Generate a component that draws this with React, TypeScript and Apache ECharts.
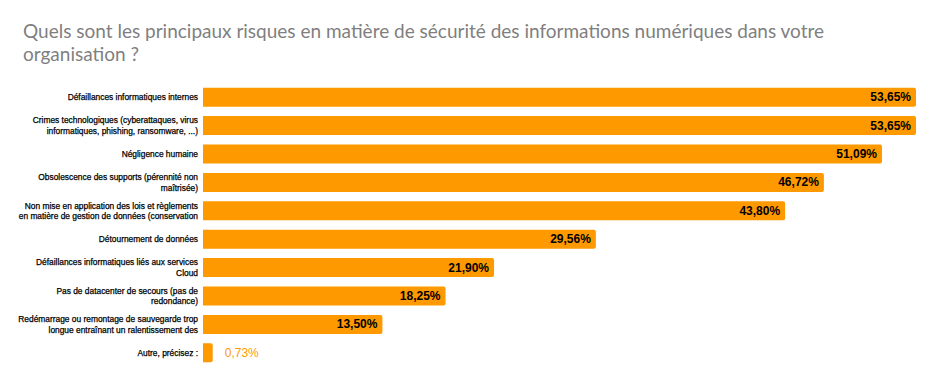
import React, { useEffect, useRef } from "react";
import * as echarts from "echarts";

const titleText =
  "Quels sont les principaux risques en matière de sécurité des informations numériques dans votre\norganisation ?";

const categories = [
  "Défaillances informatiques internes",
  "Crimes technologiques (cyberattaques, virus\ninformatiques, phishing, ransomware, ...)",
  "Négligence humaine",
  "Obsolescence des supports (pérennité non\nmaîtrisée)",
  "Non mise en application des lois et règlements\nen matière de gestion de données (conservation",
  "Détournement de données",
  "Défaillances informatiques liés aux services\nCloud",
  "Pas de datacenter de secours (pas de\nredondance)",
  "Redémarrage ou remontage de sauvegarde trop\nlongue entraînant un ralentissement des",
  "Autre, précisez :",
];

const values = [53.65, 53.65, 51.09, 46.72, 43.8, 29.56, 21.9, 18.25, 13.5, 0.73];

const ORANGE = "#ff9900";

const fmt = (v: number) => v.toFixed(2).replace(".", ",") + "%";

export default function App() {
  const ref = useRef<HTMLDivElement>(null);

  useEffect(() => {
    if (!ref.current) return;
    const chart = echarts.init(ref.current, undefined, { renderer: "svg" });

    const data = values.map((v) => {
      const small = v < 5;
      return {
        value: v,
        label: small
          ? {
              show: true,
              position: "right",
              distance: 12,
              color: ORANGE,
              fontWeight: "normal",
              fontSize: 12,
              fontFamily: "Liberation Sans, Arial, sans-serif",
              formatter: (p: any) => fmt(p.value),
            }
          : {
              show: true,
              position: "insideRight",
              distance: 5,
              color: "#000",
              fontWeight: "bold",
              fontSize: 12,
              fontFamily: "Liberation Sans, Arial, sans-serif",
              formatter: (p: any) => fmt(p.value),
            },
      };
    });

    chart.setOption({
      animation: false,
      title: {
        text: titleText,
        left: 18,
        top: 14,
        textStyle: {
          fontFamily: "Lato, sans-serif",
          fontWeight: "normal",
          fontSize: 19,
          lineHeight: 23,
          color: "#7f7f7f",
        },
      },
      grid: { left: 203, right: 20, top: 83, bottom: 25, containLabel: false },
      xAxis: {
        type: "value",
        min: 0,
        max: 53.65,
        show: false,
      },
      yAxis: {
        type: "category",
        data: categories,
        inverse: true,
        axisLine: { show: false },
        axisTick: { show: false },
        axisLabel: {
          margin: 5,
          fontSize: 8.4,
          lineHeight: 10.5,
          color: "#000",
          textBorderColor: "#000",
          textBorderWidth: 0.25,
          fontFamily: "Liberation Sans, Arial, sans-serif",
          align: "right",
        },
      },
      series: [
        {
          type: "bar",
          data,
          barWidth: 19,
          itemStyle: { color: ORANGE, borderRadius: [0, 2, 2, 0] },
        },
      ],
    });

    return () => chart.dispose();
  }, []);

  return (
    <div
      ref={ref}
      style={{ position: "absolute", left: 0, top: 0, width: 936, height: 392 }}
    />
  );
}
